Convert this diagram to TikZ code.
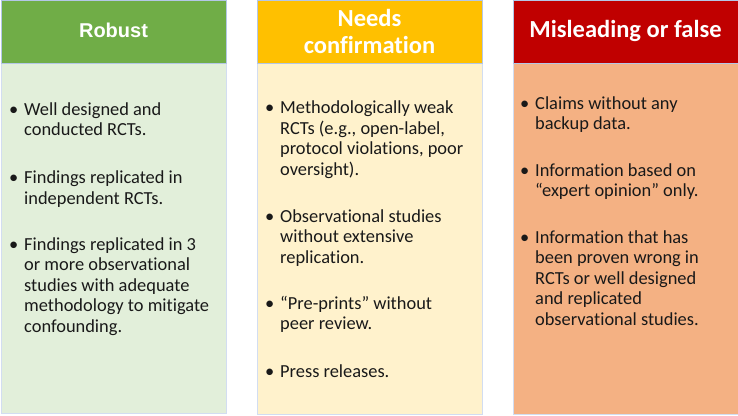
\documentclass[tikz,border=0pt]{standalone}
\usepackage{fontspec}
\setmainfont{Carlito}[Ligatures={NoCommon}]
\newfontfamily\hdarial{Liberation Sans}
\definecolor{gHead}{HTML}{70AD47}
\definecolor{gBody}{HTML}{E2EFDA}
\definecolor{yHead}{HTML}{FFC000}
\definecolor{yBody}{HTML}{FFF2CC}
\definecolor{rHead}{HTML}{C00000}
\definecolor{rBody}{HTML}{F4B183}
\definecolor{edge}{HTML}{B4C7E7}
\tikzset{
  hdbox/.style={draw=edge, line width=0.6pt},
  bodybox/.style={draw=edge!60, line width=0.4pt},
  hdtext/.style={text=white, font=\fontsize{24.5}{27}\selectfont\bfseries, align=center, inner sep=0pt},
  itm/.style={anchor=base west, align=left, inner sep=0pt, text=black!90,
    font=\fontsize{18.4}{20.5}\selectfont},
}
\newcommand{\bul}{\llap{\textbullet\hspace{6pt}}}
\begin{document}
\begin{tikzpicture}[x=1pt,y=-1pt]
\useasboundingbox (0,0) rectangle (738,415);
% column 1
\path[fill=gBody, bodybox] (1,63) rectangle (226,413);
\path[fill=gHead, hdbox] (1,0) rectangle (226,63);
\node[hdtext, font=\hdarial\fontsize{20}{24}\selectfont\bfseries] (h1) at (113.5,30) {Robust};
\node[itm] (a1) at (24,135.5) {\bul Well designed and\\conducted RCTs.};
\node[itm] (a2) at (24,204) {\bul Findings replicated in\\independent RCTs.};
\node[itm] (a3) at (24,332) {\bul Findings replicated in 3\\or more observational\\studies with adequate\\methodology to mitigate\\confounding.};
% column 2
\path[fill=yBody, bodybox] (257,63) rectangle (482,414);
\path[fill=yHead, hdbox] (257,0) rectangle (482,63);
\node[hdtext] (h2) at (369.5,31) {Needs\\confirmation};
\node[itm] (b1) at (280,175) {\bul Methodologically weak\\RCTs (e.g., open-label,\\protocol violations, poor\\oversight).};
\node[itm] (b2) at (280,263) {\bul Observational studies\\without extensive\\replication.};
\node[itm] (b3) at (280,329.5) {\bul “Pre-prints” without\\peer review.};
\node[itm] (b4) at (280,377) {\bul Press releases.};
% column 3
\path[fill=rBody, bodybox] (513,63) rectangle (738,414);
\path[fill=rHead, hdbox] (513,0) rectangle (738,63);
\node[hdtext] (h3) at (625.5,31) {Misleading or false};
\node[itm] (c1) at (535,129.5) {\bul Claims without any\\backup data.};
\node[itm] (c2) at (535,196.5) {\bul Information based on\\“expert opinion” only.};
\node[itm] (c3) at (535,325) {\bul Information that has\\been proven wrong in\\RCTs or well designed\\and replicated\\observational studies.};
\end{tikzpicture}
\end{document}
